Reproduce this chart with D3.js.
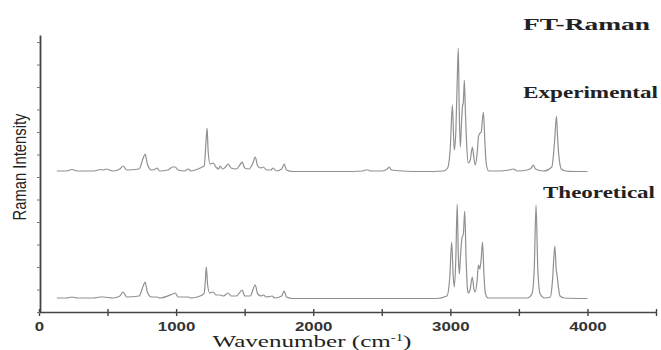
<!DOCTYPE html>
<html>
<head>
<meta charset="utf-8">
<script src="https://cdn.jsdelivr.net/npm/d3@7"></script>
<style>
  body { margin: 0; background: #fff; }
  svg { display: block; }
</style>
</head>
<body>
<div id="chart"></div>
<script>
// x ticks (cm-1) and labels
const xTicks = [0, 500, 1000, 1500, 2000, 2500, 3000, 3500, 4000, 4500];
const xTickLabels = ["0", "", "1000", "", "2000", "", "3000", "", "4000", ""];

// stacked spectra: vertical offset of each baseline (a.u.)
const seriesNames = ["Experimental", "Theoretical"];
const seriesOffsets = [140, 13];

// experimental FT-Raman, [wavenumber, intensity]
const experimental = [
  [130,1],[200,1],[240,2.5],[280,1],[400,1],[450,2.5],[470,2],[490,3],[540,1],[590,3],
  [613,6],[640,2],[730,3],[760,14],[774,18],[790,8],[820,2],[850,3],[861,4],[880,1],
  [940,2],[975,5],[993,5],[1015,2],[1060,1],[1088,3],[1110,1],[1160,3],[1190,5],[1205,6],
  [1218,30],[1226,44],[1234,20],[1248,8],[1270,9],[1290,5],[1310,3],[1321,6],[1340,3],[1360,5],
  [1380,8],[1400,4],[1440,3],[1470,8],[1482,10],[1500,4],[1530,3],[1560,9],[1577,15],[1595,6],
  [1615,4],[1635,5],[1660,2],[1690,2],[1708,4],[1730,1],[1770,3],[1788,8],[1805,2],[1850,0.5],
  [2000,0.5],[2200,0.5],[2360,1],[2380,2],[2400,2],[2420,1],[2500,1],[2540,3],[2555,5],[2570,2],
  [2650,1],[2800,0.5],[2950,1],[2980,4],[3000,25],[3015,67],[3024,35],[3029,22],[3040,40],[3050,90],
  [3058,124],[3065,60],[3073,25],[3080,45],[3088,65],[3095,70],[3102,92],[3110,60],[3120,25],[3131,9],
  [3145,12],[3161,25],[3172,14],[3182,7],[3195,18],[3205,35],[3212,38],[3225,40],[3241,60],[3252,30],
  [3262,8],[3280,1],[3350,1],[3430,2],[3460,3],[3490,1],[3560,2],[3590,4],[3606,7],[3620,3],
  [3680,1],[3740,5],[3760,30],[3774,56],[3782,35],[3788,22],[3795,12],[3810,3],[3840,1],[3900,0.5],
  [4000,0.5]
];

// theoretical (calculated) spectrum
const theoretical = [
  [130,1],[200,1],[240,2],[280,1],[400,1],[445,2],[470,2],[540,1],[590,3],[613,7],
  [640,2],[730,3],[760,13],[774,17],[790,7],[820,2],[861,2],[880,1],[975,5],[993,6],
  [1015,2],[1088,2],[1110,1],[1175,3],[1190,4],[1205,6],[1214,20],[1220,32],[1230,14],[1245,6],
  [1270,7],[1290,4],[1321,4],[1345,3],[1380,6],[1400,3],[1440,3],[1482,9],[1500,3],[1540,3],
  [1577,14],[1595,5],[1620,3],[1635,4],[1660,2],[1700,3],[1720,1],[1770,3],[1788,8],[1805,2],
  [1850,0.5],[2900,0.5],[2975,3],[2995,20],[3010,57],[3020,25],[3029,12],[3040,40],[3050,95],[3058,45],
  [3066,25],[3075,45],[3085,61],[3095,65],[3105,88],[3115,40],[3125,10],[3131,6],[3145,10],[3160,22],
  [3172,10],[3182,7],[3195,18],[3205,34],[3215,30],[3225,40],[3235,57],[3245,25],[3255,6],[3275,1],
  [3560,1],[3595,5],[3612,30],[3625,94],[3638,30],[3655,5],[3690,1],[3730,2],[3745,18],[3762,53],
  [3772,30],[3780,22],[3788,12],[3800,3],[3830,1],[4000,0.5]
];

const width = 661, height = 350;

const svg = d3.select("#chart").append("svg")
  .attr("width", width)
  .attr("height", height);

const x = d3.scaleLinear().domain([0, 4500]).range([39, 656]);
const y = d3.scaleLinear().domain([0, 277]).range([312, 35]);

// lines first, axes on top
const line = d3.line()
  .x(d => x(d[0]))
  .y(d => y(d[1]))
  .curve(d3.curveMonotoneX);

[experimental, theoretical].forEach((data, i) => {
  svg.append("path")
    .datum(data.map(d => [d[0], d[1] + seriesOffsets[i]]))
    .attr("fill", "none")
    .attr("stroke", "#909090")
    .attr("stroke-width", 1.2)
    .attr("d", line);
});

// x axis
const xAxis = svg.append("g")
  .attr("transform", `translate(0,${y(0)})`)
  .call(d3.axisBottom(x)
    .tickValues(xTicks)
    .tickFormat((d, i) => xTickLabels[i])
    .tickSizeInner(4)
    .tickSizeOuter(0)
    .tickPadding(6));
xAxis.select(".domain").attr("stroke", "#444").attr("stroke-width", 1.6);
xAxis.selectAll(".tick line").attr("stroke", "#444").attr("stroke-width", 1.4).attr("y1", -3);
xAxis.selectAll(".tick text")
  .attr("fill", "#333")
  .attr("font-family", "'Liberation Sans', Arial, sans-serif")
  .attr("font-weight", "bold")
  .attr("font-size", 12.5)
  .attr("transform", "scale(1.35,1)");

// y axis, ticks only
const yAxis = svg.append("g")
  .attr("transform", `translate(${x(0) + 1},0)`)
  .call(d3.axisLeft(y)
    .tickValues(d3.range(0, 277, 22.5))
    .tickFormat("")
    .tickSizeInner(3)
    .tickSizeOuter(0));
yAxis.select(".domain").attr("stroke", "#444").attr("stroke-width", 1.8);
yAxis.selectAll(".tick line").attr("stroke", "#777");

// axis titles
const xTitle = svg.append("text")
  .attr("x", 312)
  .attr("y", 347)
  .attr("text-anchor", "middle")
  .attr("font-family", "'Liberation Serif', 'Times New Roman', serif")
  .attr("font-size", 17)
  .attr("fill", "#222")
  .attr("textLength", 199)
  .attr("lengthAdjust", "spacingAndGlyphs");
xTitle.append("tspan").text("Wavenumber (cm");
xTitle.append("tspan").attr("font-size", 10).attr("dy", -6).text("-1");
xTitle.append("tspan").attr("dy", 6).text(")");

svg.append("text")
  .attr("transform", "translate(26,167) rotate(-90)")
  .attr("text-anchor", "middle")
  .attr("font-family", "'Liberation Sans Narrow', 'Arial Narrow', 'Liberation Sans', sans-serif")
  .attr("font-size", 18)
  .attr("fill", "#222")
  .attr("textLength", 107)
  .attr("lengthAdjust", "spacingAndGlyphs")
  .text("Raman Intensity");

// annotations
const labels = [
  { text: "FT-Raman", x: 523, y: 30, len: 127 },
  { text: seriesNames[0], x: 523, y: 98, len: 135 },
  { text: seriesNames[1], x: 543, y: 198, len: 112 }
];
svg.selectAll(".label")
  .data(labels)
  .enter().append("text")
  .attr("class", "label")
  .attr("x", d => d.x)
  .attr("y", d => d.y)
  .attr("font-family", "'Liberation Serif', 'Times New Roman', serif")
  .attr("font-weight", "bold")
  .attr("font-size", 16)
  .attr("fill", "#222")
  .attr("textLength", d => d.len)
  .attr("lengthAdjust", "spacingAndGlyphs")
  .text(d => d.text);
</script>
</body>
</html>
